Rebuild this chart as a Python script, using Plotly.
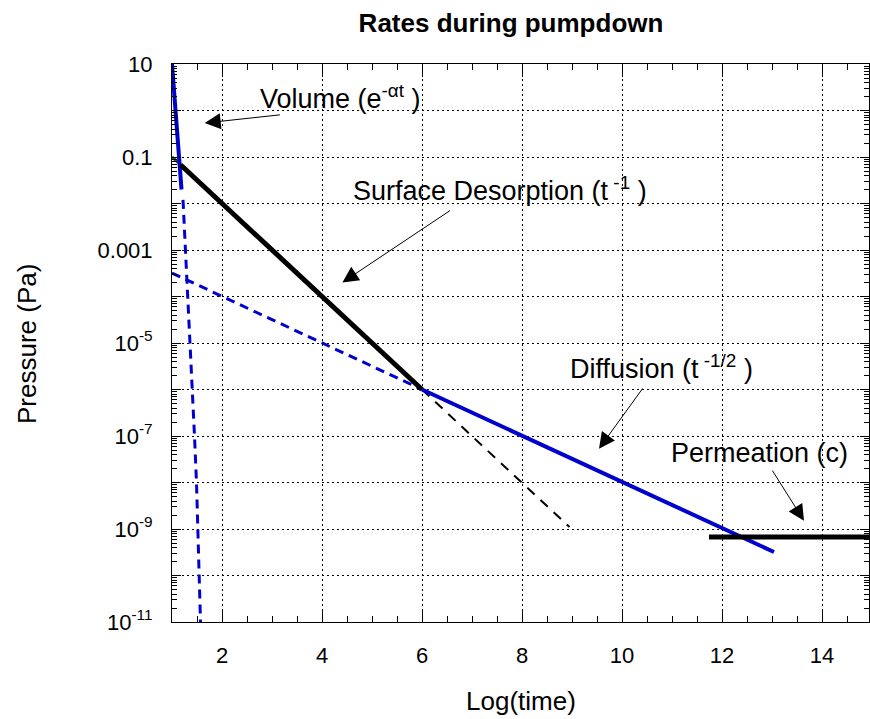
import plotly.graph_objects as go

# ---- data ----
volume_solid_x = [1.0, 1.19]
volume_solid_y = [10.0, 0.02]
volume_dash_x = [1.22, 1.27, 1.32, 1.37, 1.41, 1.45, 1.49, 1.52, 1.54, 1.57]
volume_dash_y = [0.012, 1e-3, 1e-4, 1e-5, 1e-6, 1e-7, 1e-8, 1e-9, 1e-10, 1e-11]
green_x = [1.0, 1.14]
green_y = [0.1, 0.074]
surface_solid_x = [1.17, 6.0]
surface_solid_y = [0.068, 1e-6]
surface_dash_x = [6.0, 8.95]
surface_dash_y = [1e-6, 1.1e-9]
diffusion_dash_x = [1.0, 6.0]
diffusion_dash_y = [3.2e-4, 1e-6]
diffusion_solid_x = [6.0, 13.04]
diffusion_solid_y = [1e-6, 3.2e-10]
permeation_x = [11.74, 15.0]
permeation_y = [6.7e-10, 6.7e-10]

y_tick_exps = list(range(-11, 2))
y_tick_text = {1: "10", -1: "0.1", -3: "0.001", -5: "10<sup>-5</sup>",
               -7: "10<sup>-7</sup>", -9: "10<sup>-9</sup>", -11: "10<sup>-11</sup>"}

BLUE = "#0000CD"
FONT = "Liberation Sans, Arial, sans-serif"

fig = go.Figure()

def add(x, y, color, width, dash="solid"):
    fig.add_trace(go.Scatter(x=x, y=y, mode="lines", showlegend=False,
                             line=dict(color=color, width=width, dash=dash),
                             hoverinfo="skip"))

add(diffusion_dash_x, diffusion_dash_y, BLUE, 3, "9px,6px")
add(volume_dash_x, volume_dash_y, BLUE, 3, "9px,6px")
add(surface_dash_x, surface_dash_y, "black", 2, "10px,8px")
add(green_x, green_y, "#1f5f1f", 3)
add(volume_solid_x, volume_solid_y, BLUE, 4)
add(surface_solid_x, surface_solid_y, "black", 5)
add(diffusion_solid_x, diffusion_solid_y, BLUE, 4)
add(permeation_x, permeation_y, "black", 5)

tickvals = [10.0 ** k for k in y_tick_exps]
ticktext = [y_tick_text.get(k, "") for k in y_tick_exps]
minor_vals = [m * 10.0 ** k for k in range(-11, 1) for m in range(2, 10)]

grid = dict(showgrid=True, gridcolor="black", gridwidth=1, griddash="2px,3px")

fig.update_xaxes(range=[1, 14.94], tickmode="linear", tick0=0, dtick=2,
                 ticks="inside", ticklen=13, tickcolor="black", tickwidth=1,
                 showline=True, linecolor="black", linewidth=1, mirror="allticks",
                 minor=dict(tickmode="linear", tick0=0, dtick=0.5, ticks="inside",
                            ticklen=6, tickcolor="black", showgrid=False),
                 tickfont=dict(family=FONT, size=22, color="black"),
                 ticklabelstandoff=14, automargin=False, zeroline=False, **grid)
fig.update_yaxes(type="log", range=[-11, 1], tickmode="array", tickvals=tickvals,
                 ticktext=ticktext, ticks="inside", ticklen=9, tickcolor="black",
                 showline=True, linecolor="black", linewidth=1, mirror="allticks",
                 minor=dict(tickmode="array", tickvals=minor_vals, ticks="inside",
                            ticklen=5, tickcolor="black", showgrid=False),
                 tickfont=dict(family=FONT, size=22, color="black"),
                 ticklabelstandoff=14, automargin=False, zeroline=False, **grid)

annfont = dict(family=FONT, size=27, color="black")
texts = [
    ("Volume (e<sup>-αt</sup> )", 4.37, 0.297),
    ("Surface Desorption (t<sup> -1</sup> )", 7.56, -1.68),
    ("Diffusion (t<sup> -1/2</sup> )", 10.78, -5.51),
    ("Permeation (c)", 12.74, -7.36),
]
for t, x, y in texts:
    fig.add_annotation(text=t, x=x, y=y, xref="x", yref="y", showarrow=False,
                       font=annfont, xanchor="center", yanchor="middle")

arrows = [
    (1.654, -0.269, 3.188, -0.090),
    (4.408, -3.697, 6.588, -2.133),
    (9.54, -7.273, 10.434, -5.946),
    (13.64, -8.822, 12.988, -7.710),
]
for hx, hy, tx, ty in arrows:
    fig.add_annotation(text="", x=hx, y=hy, ax=tx, ay=ty, xref="x", yref="y",
                       axref="x", ayref="y", showarrow=True, arrowhead=2,
                       arrowsize=3.2, arrowwidth=1, arrowcolor="black", standoff=0,
                       startstandoff=0)

fig.add_annotation(text="Log(time)", x=0.5, y=(622 - 701) / 558, xref="paper", yref="paper",
                   showarrow=False, font=dict(family=FONT, size=26, color="black"),
                   xanchor="center", yanchor="middle")
fig.add_annotation(text="Pressure (Pa)", x=(27 - 172) / 697, y=(622 - 344) / 558,
                   xref="paper", yref="paper", textangle=-90, showarrow=False,
                   font=dict(family=FONT, size=26, color="black"),
                   xanchor="center", yanchor="middle")

fig.update_layout(
    width=870, height=719,
    margin=dict(l=172, r=1, t=64, b=97),
    paper_bgcolor="white", plot_bgcolor="white",
    title=dict(text="<b>Rates during pumpdown</b>", x=511 / 870, xref="container",
               xanchor="center", y=1 - 22.5 / 719, yref="container", yanchor="middle",
               font=dict(family=FONT, size=26, color="black")),
    showlegend=False,
)

fig.write_html("out.html")
